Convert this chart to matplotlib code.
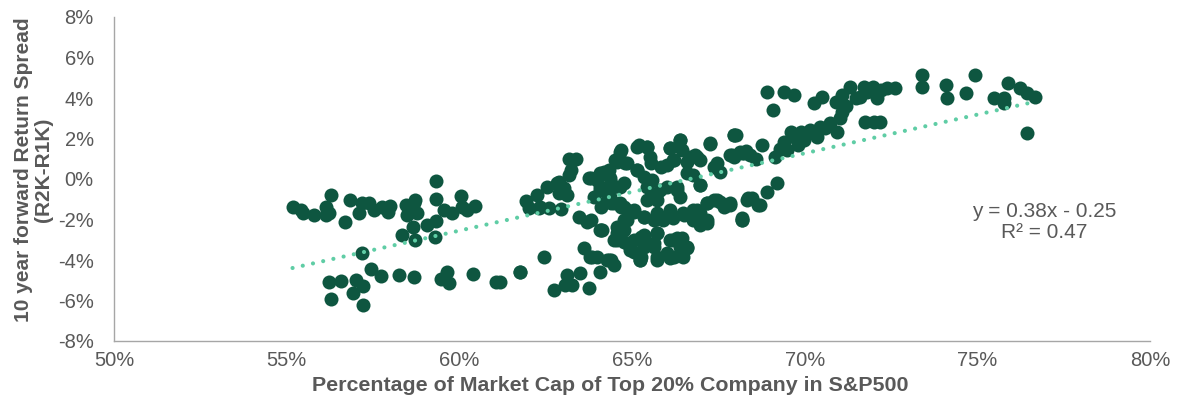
import matplotlib
matplotlib.use("Agg")
import matplotlib.pyplot as plt
from matplotlib.ticker import FuncFormatter, MultipleLocator
import numpy as np

plt.rcParams['font.family'] = ['Liberation Sans', 'DejaVu Sans']

# Percentage of market cap of top 20% companies (%), 10y forward return spread (%)
x_pct = [
    55.17, 55.41, 55.46, 55.79, 56.13, 56.28, 56.13, 56.23, 56.68, 56.84, 57.10, 57.19,
    57.38, 57.53, 57.77, 57.99, 57.92, 58.45, 58.49, 58.69, 58.73, 58.76, 58.66, 58.33,
    58.71, 59.07, 59.31, 59.33, 59.33, 59.29, 59.55, 59.80, 60.04, 60.08, 60.44, 60.23,
    57.19, 57.43, 57.74, 58.25, 58.69, 59.46, 59.63, 59.70, 60.40, 61.07, 61.77, 56.23,
    56.56, 57.00, 57.22, 56.93, 56.29, 57.21,
    63.17, 63.39, 63.22, 63.17, 62.88, 62.54, 62.25, 61.94, 62.01, 62.35, 62.59, 62.93,
    63.12, 63.02, 63.75, 63.46, 63.70, 64.08, 64.08, 64.32, 64.66, 64.57, 64.81, 64.37,
    64.08, 64.37, 64.66, 65.14, 65.43, 65.53, 65.14, 65.34, 65.58, 65.63, 65.72, 66.01,
    66.11, 66.40, 66.45, 66.20, 66.30, 66.40, 66.59, 66.83, 66.98, 67.27, 67.94, 67.89,
    68.13, 67.36, 67.55, 66.78, 66.98, 66.78, 66.98, 67.17, 67.36, 67.55, 67.75, 67.17,
    68.18, 68.37, 66.49, 66.20, 65.91, 65.63, 65.34, 65.05, 64.76, 64.47, 64.28, 64.76,
    64.76, 64.47, 65.05, 65.34, 65.72, 65.05, 65.24, 65.63, 65.72, 66.01, 66.20, 66.45,
    66.59, 66.11, 63.60, 63.79, 64.28, 64.47, 64.08, 63.12, 63.50, 63.07, 63.26, 63.75,
    62.73, 62.44, 61.77, 61.19,
    65.20, 65.44, 66.11, 66.40, 64.67, 64.52, 64.19, 63.99, 63.80, 64.86, 65.15, 65.54,
    65.83, 66.21, 66.69, 66.89, 67.27, 66.60, 66.98, 66.02, 66.31, 65.73, 65.44, 64.76,
    64.38, 64.19, 63.90, 64.09, 64.38, 64.67, 65.05, 65.34, 65.73, 66.11, 66.50, 66.89,
    67.18, 67.46, 67.66, 67.18, 66.98, 63.80, 64.09, 64.57, 64.86, 64.57, 64.86, 65.25,
    65.73, 65.63, 66.11, 66.40, 66.21, 65.73, 65.25, 64.38, 63.99, 67.95, 67.46, 67.85,
    68.24, 68.33, 68.19, 67.85,
    62.83, 62.30, 62.88, 64.08, 64.37, 64.66, 64.86, 64.13, 64.57, 64.76, 64.95, 64.33,
    63.84, 65.82, 65.43, 66.11, 66.78, 68.66, 65.34, 66.30, 66.59, 66.49, 65.24, 65.34,
    68.91, 69.39, 69.68, 69.08, 70.26, 70.50, 71.08, 71.32, 71.71, 71.99, 71.61, 72.09,
    72.38, 72.62, 71.08, 71.03, 71.76, 72.00, 72.19, 73.39, 73.39, 74.10, 74.12, 74.68,
    74.94, 75.47, 75.76, 75.76, 75.90, 76.24, 76.43, 76.67, 76.43,
    70.74, 70.94, 70.45, 70.16, 69.88, 69.97, 69.68, 69.39, 69.49, 69.15, 68.77, 68.43,
    68.19, 67.95, 68.00, 69.20, 68.91, 68.48, 68.72, 67.85, 68.19, 70.36, 69.59,
    70.60, 71.20, 71.50, 71.80, 72.20, 70.90, 70.00, 69.80, 69.30, 68.60, 68.30,
]
y_pct = [
    -1.37, -1.53, -1.70, -1.78, -1.37, -0.79, -1.78, -1.70, -2.14, -1.04, -1.70, -1.20,
    -1.20, -1.53, -1.37, -1.32, -1.65, -1.28, -1.78, -1.20, -1.04, -1.70, -2.35, -2.77,
    -3.01, -2.27, -0.10, -1.00, -2.06, -2.88, -1.53, -1.70, -0.84, -1.37, -1.32, -1.53,
    -3.64, -4.43, -4.81, -4.76, -4.82, -4.94, -4.58, -5.15, -4.69, -5.07, -4.58, -5.07,
    -5.04, -4.99, -5.28, -5.65, -5.94, -6.22,
    0.97, 0.97, 0.45, 0.20, -0.13, -0.38, -0.79, -1.07, -1.45, -1.37, -1.45, -1.50,
    -0.79, -0.46, 0.03, -1.86, -2.11, -2.52, 0.28, 0.45, 1.35, 0.86, 0.77, 0.03,
    -0.38, -0.54, -0.38, 1.60, 1.60, 1.10, 0.45, 0.12, -0.05, -0.87, -1.04, 0.69,
    1.52, 1.93, 1.43, 0.94, -0.38, -0.87, 0.86, 1.19, 0.94, 1.73, 2.17, 1.19,
    1.35, 0.61, 0.36, 0.20, -0.30, -1.53, -1.69, -1.20, -1.04, -1.12, -1.28, -2.19,
    -2.02, -0.95, -1.69, -1.94, -2.02, -2.02, -1.86, -1.61, -1.37, -1.20, -1.04, -2.02,
    -2.52, -3.01, -3.01, -2.77, -2.68, -3.59, -4.00, -3.18, -3.84, -3.67, -3.01, -2.93,
    -3.42, -3.92, -3.42, -3.84, -4.00, -4.25, -4.58, -4.74, -4.66, -5.23, -5.23, -5.40,
    -5.48, -3.87, -4.58, -5.07,
    1.68, 1.60, 1.51, 1.93, 1.43, 0.94, 0.36, -0.05, 0.03, 0.77, 0.45, 0.77,
    0.61, 0.94, 1.10, 1.10, 1.76, 0.28, -0.30, -0.38, -0.54, -0.71, -0.38, -0.21,
    -0.21, -0.54, -0.87, -1.37, -1.20, -1.37, -1.53, -1.86, -1.69, -1.53, -1.78, -1.53,
    -1.20, -1.04, -1.37, -2.02, -2.27, -2.02, -2.52, -2.35, -2.02, -3.01, -3.18, -2.85,
    -2.68, -3.34, -3.01, -3.34, -3.84, -4.00, -3.84, -4.00, -3.84, 2.17, 0.77, 1.19,
    1.27, -1.04, -1.94, -1.20,
    -0.21, -1.45, -0.71, -0.54, -0.87, -1.20, -1.53, -2.52, -2.68, -3.09, -3.51, -4.00,
    -3.84, -0.54, -1.04, -1.78, -2.02, -1.28, -2.85, -2.93, -3.34, -3.84, -4.00, -3.34,
    4.31, 4.31, 4.15, 3.41, 3.74, 4.03, 4.15, 4.56, 4.56, 4.56, 4.07, 3.98,
    4.48, 4.48, 3.33, 3.00, 2.83, 2.83, 2.83, 5.14, 4.56, 4.64, 3.98, 4.23,
    5.14, 3.98, 3.98, 3.74, 4.73, 4.48, 4.23, 4.07, 2.26,
    2.75, 2.34, 2.58, 2.42, 2.34, 1.93, 2.09, 1.84, 1.43, 1.10, 1.68, 1.19,
    1.27, 1.10, 2.17, -0.21, -0.62, -0.95, -1.28, -1.28, -2.02, 2.09, 2.34,
    2.50, 3.60, 4.00, 4.30, 4.40, 3.80, 2.20, 1.70, 1.50, 1.00, 1.40,
]

# linear trend (drawn with unrounded coefficients, labelled with rounded ones)
slope, intercept = 0.382, -0.2547
eq_text = "y = 0.38x - 0.25"
r2_text = "R² = 0.47"

gray = '#595959'
fig = plt.figure(figsize=(11.79, 4.0), dpi=100)
ax = fig.add_axes([0.0967, 0.1475, 0.8787, 0.81])

ax.scatter(x_pct, y_pct, s=102, color='#0e5640', linewidths=0, zorder=3)

xs = np.array([min(x_pct), max(x_pct)])
ys = (slope * xs / 100 + intercept) * 100
ax.plot(xs, ys, color='#5fcda5', linestyle=(0, (0.01, 2.5)), linewidth=3.0,
        dash_capstyle='round', solid_capstyle='round', zorder=4)

ax.set_xlim(50, 80)
ax.set_ylim(-8, 8)
ax.xaxis.set_major_locator(MultipleLocator(5))
ax.yaxis.set_major_locator(MultipleLocator(2))
ax.xaxis.set_major_formatter(FuncFormatter(lambda v, p: f"{v:.0f}%"))
ax.yaxis.set_major_formatter(FuncFormatter(lambda v, p: f"{v:.0f}%"))
ax.tick_params(axis='both', length=0, labelsize=14.5, labelcolor=gray)
ax.tick_params(axis='y', pad=14.5)
ax.tick_params(axis='x', pad=7)
for s in ['top', 'right']:
    ax.spines[s].set_visible(False)
for s in ['left', 'bottom']:
    ax.spines[s].set_color('#a6a6a6')
    ax.spines[s].set_linewidth(1.0)

ax.set_xlabel("Percentage of Market Cap of Top 20% Company in S&P500",
              fontsize=15.4, fontweight='bold', color=gray, va='center')
ax.xaxis.set_label_coords(0.479, -0.136)
ax.set_ylabel("10 year forward Return Spread\n(R2K-R1K)",
              fontsize=15, fontweight='bold', color=gray, va='center',
              linespacing=1.1)
ax.yaxis.set_label_coords(-0.0777, 0.528)

ax.text(0.8977, 0.367, eq_text + "\n" + r2_text, transform=ax.transAxes,
        ha='center', va='center', fontsize=15, color=gray,
        multialignment='center', linespacing=1.1)

fig.savefig("out.png", dpi=100)
